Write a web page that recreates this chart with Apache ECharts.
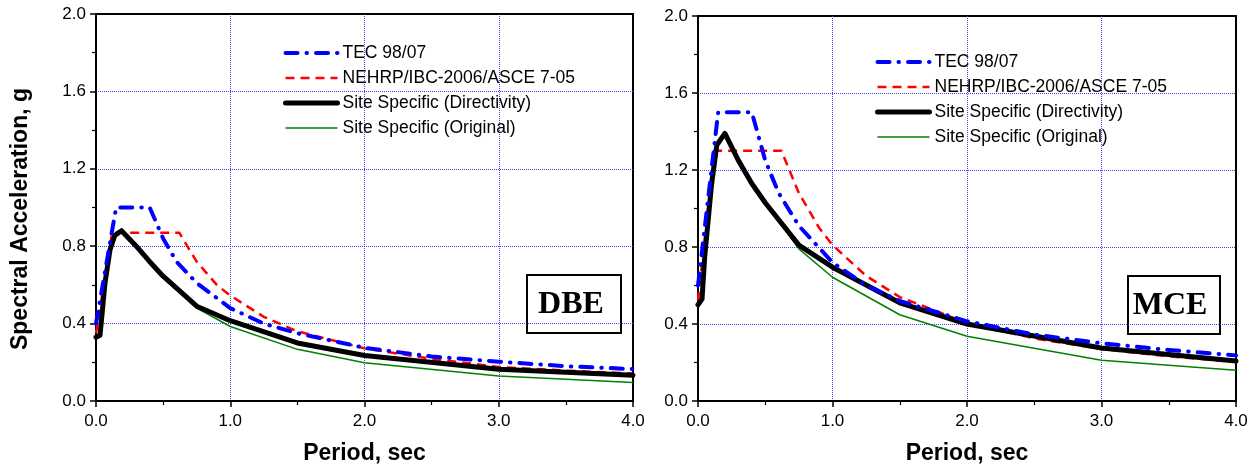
<!DOCTYPE html>
<html>
<head>
<meta charset="utf-8">
<script src="https://cdn.jsdelivr.net/npm/echarts@6/dist/echarts.min.js"></script>
<style>
html,body{margin:0;padding:0;background:#fff;}
#chart{width:1256px;height:467px;}
</style>
</head>
<body>
<div id="chart"></div>
<script>
// ---- Data (Period in sec, spectral acceleration in g) ----
const seriesNames = ['TEC 98/07', 'NEHRP/IBC-2006/ASCE 7-05', 'Site Specific (Directivity)', 'Site Specific (Original)'];

const periodsTEC = [0, 0.15, 0.4, 0.5, 0.6, 0.75, 1.0, 1.25, 1.5, 2.0, 2.5, 3.0, 3.5, 4.0];
const tecDBE = [0.40, 1.00, 1.00, 0.84, 0.72, 0.61, 0.48, 0.40, 0.35, 0.275, 0.23, 0.203, 0.18, 0.165];
const tecMCE = [0.60, 1.50, 1.50, 1.25, 1.08, 0.91, 0.72, 0.60, 0.52, 0.414, 0.345, 0.30, 0.265, 0.237];

const periodsNEHRP = [0, 0.12, 0.62, 0.75, 0.9, 1.0, 1.25, 1.5, 2.0, 2.5, 3.0, 3.5, 4.0];
const nehrpDBE = [0.35, 0.87, 0.87, 0.72, 0.60, 0.545, 0.435, 0.36, 0.272, 0.218, 0.176, 0.157, 0.142];
const nehrpMCE = [0.52, 1.30, 1.30, 1.08, 0.90, 0.81, 0.65, 0.54, 0.405, 0.325, 0.27, 0.232, 0.203];

const periodsSiteDBE = [0, 0.03, 0.067, 0.104, 0.14, 0.19, 0.3, 0.4, 0.5, 0.75, 1.0, 1.5, 2.0, 3.0, 4.0];
const directivityDBE = [0.33, 0.34, 0.61, 0.78, 0.855, 0.88, 0.80, 0.72, 0.645, 0.49, 0.415, 0.30, 0.235, 0.164, 0.133];
const originalDBE    = [0.33, 0.34, 0.61, 0.78, 0.855, 0.88, 0.80, 0.72, 0.645, 0.48, 0.385, 0.267, 0.198, 0.129, 0.095];

const periodsSiteMCE = [0, 0.03, 0.05, 0.1, 0.14, 0.2, 0.3, 0.4, 0.5, 0.75, 1.0, 1.5, 2.0, 3.0, 4.0];
const directivityMCE = [0.50, 0.53, 0.75, 1.12, 1.33, 1.39, 1.25, 1.13, 1.03, 0.81, 0.695, 0.51, 0.40, 0.275, 0.208];
const originalMCE    = [0.50, 0.53, 0.75, 1.12, 1.33, 1.39, 1.25, 1.13, 1.03, 0.79, 0.643, 0.448, 0.336, 0.212, 0.16];

const xTicks = [0, 1, 2, 3, 4];
const yTicks = [0, 0.4, 0.8, 1.2, 1.6, 2.0];
// ---------------------------------------------------------

const pair = (xs, ys) => xs.map((x, i) => [x, ys[i]]);
const FONT = 'Liberation Sans, Arial, sans-serif';

const styles = {
  'TEC 98/07': {color: '#0000ff', width: 4, type: [12, 9, 0.5, 9], cap: 'round', z: 5},
  'NEHRP/IBC-2006/ASCE 7-05': {color: '#ff0000', width: 2.5, type: [9, 6], cap: 'butt', z: 3},
  'Site Specific (Directivity)': {color: '#000000', width: 5, type: 'solid', cap: 'round', z: 4},
  'Site Specific (Original)': {color: '#008000', width: 1.5, type: 'solid', cap: 'butt', z: 2}
};

function mkSeries(name, data, idx) {
  const s = styles[name];
  return {
    name: name, type: 'line', xAxisIndex: idx, yAxisIndex: idx,
    data: data, symbol: 'none', showSymbol: false, z: s.z,
    lineStyle: {color: s.color, width: s.width, type: s.type, cap: s.cap, join: 'round'},
    itemStyle: {color: s.color}
  };
}

const splitLineStyle = {show: true, showMinLine: false, showMaxLine: false,
  lineStyle: {color: '#4040ff', type: [1, 1], width: 1}};

function mkX(idx) {
  return {
    type: 'value', gridIndex: idx, min: xTicks[0], max: xTicks[xTicks.length - 1], interval: 1,
    name: 'Period, sec', nameLocation: 'middle', nameGap: 41,
    nameTextStyle: {fontFamily: FONT, fontWeight: 'bold', fontSize: 23, color: '#000'},
    axisLine: {show: true, onZero: false, lineStyle: {color: '#000', width: 2}},
    axisTick: {show: true, inside: false, length: 6, lineStyle: {color: '#000', width: 1.5}},
    minorTick: {show: true, splitNumber: 2, length: 4, lineStyle: {color: '#000', width: 1.2}},
    axisLabel: {fontFamily: FONT, fontSize: 17, color: '#000', margin: 12, formatter: v => v.toFixed(1)},
    splitLine: splitLineStyle
  };
}
function mkY(idx) {
  return {
    type: 'value', gridIndex: idx, min: yTicks[0], max: yTicks[yTicks.length - 1], interval: 0.4,
    axisLine: {show: true, onZero: false, lineStyle: {color: '#000', width: 2}},
    axisTick: {show: true, inside: false, length: 6, lineStyle: {color: '#000', width: 1.5}},
    minorTick: {show: true, splitNumber: 2, length: 4, lineStyle: {color: '#000', width: 1.2}},
    axisLabel: {fontFamily: FONT, fontSize: 17, color: '#000', margin: 10, formatter: v => v.toFixed(1)},
    splitLine: splitLineStyle
  };
}

function mkLegend(left, top) {
  return {
    left: left, top: top, orient: 'vertical', itemWidth: 52, itemHeight: 14, itemGap: 7,
    padding: 0, selectedMode: false,
    data: seriesNames.map(n => ({name: n,
      itemStyle: {opacity: 0},
      lineStyle: {width: styles[n].width, type: styles[n].type, color: styles[n].color, cap: styles[n].cap}})),
    textStyle: {fontFamily: FONT, fontSize: 17.5, color: '#000', lineHeight: 14}
  };
}

function labelBox(x, y, w, h, text, tx) {
  return {
    type: 'group', z: 100,
    children: [
      {type: 'rect', shape: {x: x, y: y, width: w, height: h},
       style: {fill: '#fff', stroke: '#000', lineWidth: 2}},
      {type: 'text', x: tx, y: y + h / 2 + 1,
       style: {text: text, fill: '#000', font: 'bold 32px "Liberation Serif", "Times New Roman", serif',
               textAlign: 'center', textVerticalAlign: 'middle'}}
    ]
  };
}

const option = {
  animation: false,
  backgroundColor: '#fff',
  grid: [
    {left: 96, top: 14, width: 537, height: 387, show: true, borderColor: '#000', borderWidth: 2,
     backgroundColor: 'transparent', containLabel: false, outerBoundsMode: 'none'},
    {left: 698, top: 16, width: 538, height: 385, show: true, borderColor: '#000', borderWidth: 2,
     backgroundColor: 'transparent', containLabel: false, outerBoundsMode: 'none'}
  ],
  xAxis: [mkX(0), mkX(1)],
  yAxis: [mkY(0), mkY(1)],
  legend: [mkLegend(283, 44), mkLegend(875, 53)],
  series: [
    mkSeries('Site Specific (Original)', pair(periodsSiteDBE, originalDBE), 0),
    mkSeries('NEHRP/IBC-2006/ASCE 7-05', pair(periodsNEHRP, nehrpDBE), 0),
    mkSeries('Site Specific (Directivity)', pair(periodsSiteDBE, directivityDBE), 0),
    mkSeries('TEC 98/07', pair(periodsTEC, tecDBE), 0),
    mkSeries('Site Specific (Original)', pair(periodsSiteMCE, originalMCE), 1),
    mkSeries('NEHRP/IBC-2006/ASCE 7-05', pair(periodsNEHRP, nehrpMCE), 1),
    mkSeries('Site Specific (Directivity)', pair(periodsSiteMCE, directivityMCE), 1),
    mkSeries('TEC 98/07', pair(periodsTEC, tecMCE), 1)
  ],
  graphic: [
    {type: 'text', x: 21, y: 219, rotation: Math.PI / 2, z: 100,
     style: {text: 'Spectral Acceleration, g', fill: '#000', font: 'bold 23px "Liberation Sans", Arial, sans-serif',
             textAlign: 'center', textVerticalAlign: 'middle'}},
    labelBox(527, 275, 94, 58, 'DBE', 571),
    labelBox(1128, 276, 92, 58, 'MCE', 1170)
  ]
};

const chart = echarts.init(document.getElementById('chart'), null, {renderer: 'canvas'});
chart.setOption(option);
</script>
</body>
</html>
